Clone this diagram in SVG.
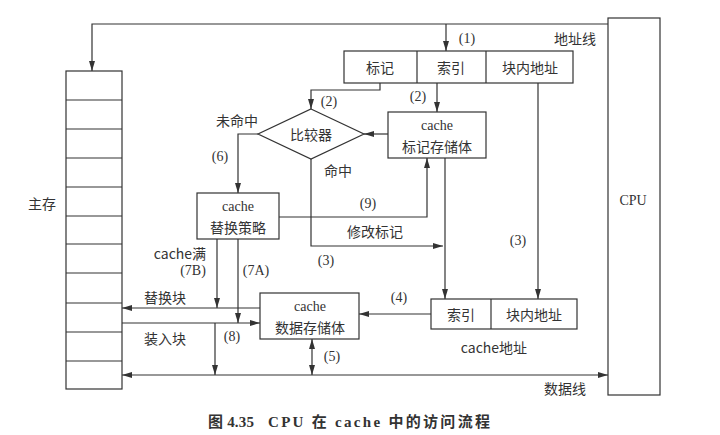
<svg xmlns="http://www.w3.org/2000/svg" width="720" height="435" viewBox="0 0 720 435">
<defs>
<marker id="ar" viewBox="0 0 10 6" refX="10" refY="3" markerWidth="10" markerHeight="6" markerUnits="userSpaceOnUse" orient="auto-start-reverse">
<path d="M0,0 L10,3 L0,6 z" fill="#333"/>
</marker>
<style>
.b{fill:#fff;stroke:#333;stroke-width:1.2}
.l{fill:none;stroke:#333;stroke-width:1.2}
.a{fill:none;stroke:#333;stroke-width:1.2;marker-end:url(#ar)}
.t{font-family:"Liberation Serif","Noto Sans CJK SC",serif;font-size:15px;fill:#333;dominant-baseline:central;font-weight:bold}
.c{font-family:"Noto Sans CJK SC","Liberation Sans",sans-serif;font-size:14px;fill:#333;text-anchor:middle;dominant-baseline:central}
.s{font-family:"Liberation Serif",serif;font-size:14px;fill:#333;text-anchor:middle;dominant-baseline:central}
</style>
</defs>
<rect width="720" height="435" fill="#fff"/>

<g id="mainmem">
<rect class="b" x="66" y="71" width="56" height="318"/>
<path class="l" d="M66,100H122M66,129H122M66,158H122M66,187H122M66,216H122M66,244H122M66,273H122M66,303H122M66,332H122M66,361H122"/>
<text class="c" x="42" y="203">主存</text>
</g>

<g id="cpu">
<rect class="b" x="608" y="18" width="52" height="377"/>
<text class="s" x="633" y="200">CPU</text>
</g>

<g id="addr">
<rect class="b" x="344" y="51" width="229" height="32"/>
<path class="l" d="M417,51V83M486,51V83"/>
<text class="c" x="380" y="67">标记</text>
<text class="c" x="451" y="67">索引</text>
<text class="c" x="530" y="67">块内地址</text>
</g>

<g id="comparator">
<polygon class="b" points="311,109 364,134 311,159 258,134"/>
<text class="c" x="311" y="134">比较器</text>
</g>

<g id="tagstore">
<rect class="b" x="388" y="112" width="98" height="46"/>
<text class="s" x="437" y="125">cache</text>
<text class="c" x="437" y="146">标记存储体</text>
</g>

<g id="replace">
<rect class="b" x="197" y="193" width="82" height="46"/>
<text class="s" x="238" y="206">cache</text>
<text class="c" x="238" y="227">替换策略</text>
</g>

<g id="datastore">
<rect class="b" x="260" y="293" width="99" height="46"/>
<text class="s" x="310" y="306">cache</text>
<text class="c" x="310" y="327">数据存储体</text>
</g>

<g id="cacheaddr">
<rect class="b" x="431" y="299" width="146" height="30"/>
<path class="l" d="M491,299V329"/>
<text class="c" x="461" y="314">索引</text>
<text class="c" x="534" y="314">块内地址</text>
<text class="c" x="494" y="347">cache地址</text>
</g>

<g id="connectors">
<path class="a" d="M608,24H92V71"/>
<path class="a" d="M446,24V51"/>
<path class="a" d="M380,83V90H311V109"/>
<path class="a" d="M437,83V112"/>
<path class="a" d="M538,83V299"/>
<path class="a" d="M388,134H364"/>
<path class="a" d="M258,134H238V193"/>
<path class="a" d="M311,159V246H443"/>
<path class="a" d="M445,158V299"/>
<path class="a" d="M279,217H427V158"/>
<path class="a" d="M217,239V308"/>
<path class="a" d="M238,239V323"/>
<path class="a" d="M260,308H122"/>
<path class="a" d="M122,323H260"/>
<path class="a" d="M215,323V375"/>
<path class="a" d="M431,314H359"/>
<path class="a" style="marker-start:url(#ar)" d="M312,339V375"/>
<path class="a" style="marker-start:url(#ar)" d="M122,375H608"/>
</g>

<g id="labels">
<text class="s" x="467" y="38">(1)</text>
<text class="c" x="575" y="38">地址线</text>
<text class="s" x="329" y="101">(2)</text>
<text class="s" x="418" y="96">(2)</text>
<text class="c" x="237" y="120">未命中</text>
<text class="s" x="220" y="156">(6)</text>
<text class="c" x="338" y="170">命中</text>
<text class="s" x="368" y="203">(9)</text>
<text class="c" x="375" y="231">修改标记</text>
<text class="s" x="326" y="260">(3)</text>
<text class="s" x="518" y="240">(3)</text>
<text class="c" x="180" y="253">cache满</text>
<text class="s" x="193" y="270">(7B)</text>
<text class="s" x="256" y="270">(7A)</text>
<text class="c" x="165" y="297">替换块</text>
<text class="c" x="165" y="338">装入块</text>
<text class="s" x="232" y="336">(8)</text>
<text class="s" x="399" y="297">(4)</text>
<text class="s" x="332" y="356">(5)</text>
<text class="c" x="565" y="388">数据线</text>
<text class="t" x="208" y="422" textLength="46" lengthAdjust="spacing">图 4.35</text>
<text class="t" x="268" y="422" textLength="222" lengthAdjust="spacing">CPU 在 cache 中的访问流程</text>
</g>
</svg>
